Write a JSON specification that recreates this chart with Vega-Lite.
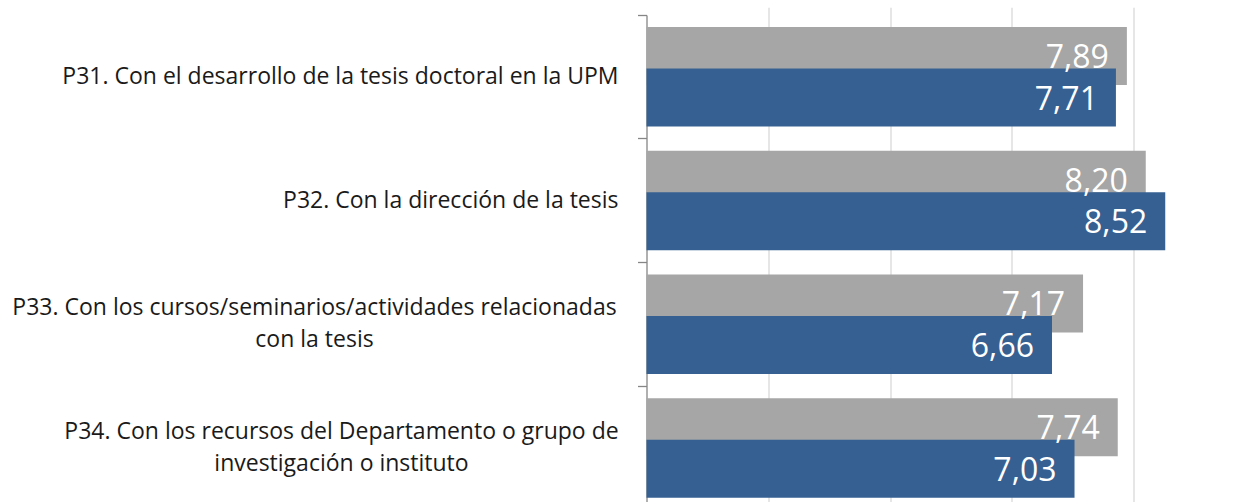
{
  "$schema": "https://vega.github.io/schema/vega-lite/v6.json",
  "width": 598.5,
  "height": 487,
  "autosize": {"type": "none"},
  "padding": {"left": 646.5, "top": 15, "right": 0, "bottom": 0},
  "background": "white",
  "config": {
    "view": {"stroke": null},
    "locale": {"number": {"decimal": ",", "thousands": ".", "grouping": [3], "currency": ["", " €"]}}
  },
  "data": {
    "values": [
      {"pregunta": "P31. Con el desarrollo de la tesis doctoral en la UPM", "serie": "Global", "valor": 7.89},
      {"pregunta": "P32. Con la dirección de la tesis", "serie": "Global", "valor": 8.20},
      {"pregunta": "P33. Con los cursos/seminarios/actividades relacionadas\ncon la tesis", "serie": "Global", "valor": 7.17},
      {"pregunta": "P34. Con los recursos del Departamento o grupo de\ninvestigación o instituto", "serie": "Global", "valor": 7.74},
      {"pregunta": "P31. Con el desarrollo de la tesis doctoral en la UPM", "serie": "Programa", "valor": 7.71},
      {"pregunta": "P32. Con la dirección de la tesis", "serie": "Programa", "valor": 8.52},
      {"pregunta": "P33. Con los cursos/seminarios/actividades relacionadas\ncon la tesis", "serie": "Programa", "valor": 6.66},
      {"pregunta": "P34. Con los recursos del Departamento o grupo de\ninvestigación o instituto", "serie": "Programa", "valor": 7.03}
    ]
  },
  "encoding": {
    "y": {
      "field": "pregunta",
      "type": "nominal",
      "sort": null,
      "scale": {"range": [0, 494.8], "paddingInner": 0, "paddingOuter": 0},
      "axis": {
        "title": null,
        "bandPosition": 0,
        "tickSize": 9,
        "tickColor": "#868686",
        "tickWidth": 1.3,
        "domainColor": "#868686",
        "domainWidth": 1.3,
        "labelFont": "Open Sans",
        "labelFontSize": 23,
        "labelColor": "#1a1a1a",
        "labelLimit": 0,
        "labelLineHeight": 32,
        "labelBaseline": "middle",
        "labelExpr": "split(datum.value, '\\n')",
        "labelAlign": {"condition": {"test": "indexof(datum.value, '\\n') >= 0", "value": "center"}, "value": "right"},
        "labelOffset": {"condition": {"test": "indexof(datum.value, '\\n') >= 0", "value": -16}, "value": 0},
        "labelPadding": {"condition": [
          {"test": "indexof(datum.value, 'P33') == 0", "value": 323.5},
          {"test": "indexof(datum.value, 'P34') == 0", "value": 296.5}
        ], "value": 19.5}
      }
    },
    "yOffset": {
      "field": "serie",
      "type": "nominal",
      "sort": ["Global", "Programa"],
      "scale": {"paddingInner": 0, "paddingOuter": 0.49}
    },
    "x": {
      "field": "valor",
      "type": "quantitative",
      "stack": null,
      "scale": {"domain": [0, 9.83], "nice": false},
      "axis": {"title": null, "labels": false, "ticks": false, "domain": false, "grid": true, "gridColor": "#D9D9D9", "gridWidth": 1.3, "values": [2, 4, 6, 8]}
    }
  },
  "layer": [
    {
      "mark": {"type": "bar", "height": 58},
      "encoding": {
        "color": {"field": "serie", "type": "nominal", "scale": {"domain": ["Global", "Programa"], "range": ["#A6A6A6", "#376092"]}, "legend": null}
      }
    },
    {
      "mark": {"type": "text", "align": "right", "baseline": "alphabetic", "dx": -18, "dy": 12, "fontSize": 32, "font": "Open Sans", "color": "white"},
      "encoding": {"text": {"field": "valor", "type": "quantitative", "format": ".2f"}}
    }
  ]
}
